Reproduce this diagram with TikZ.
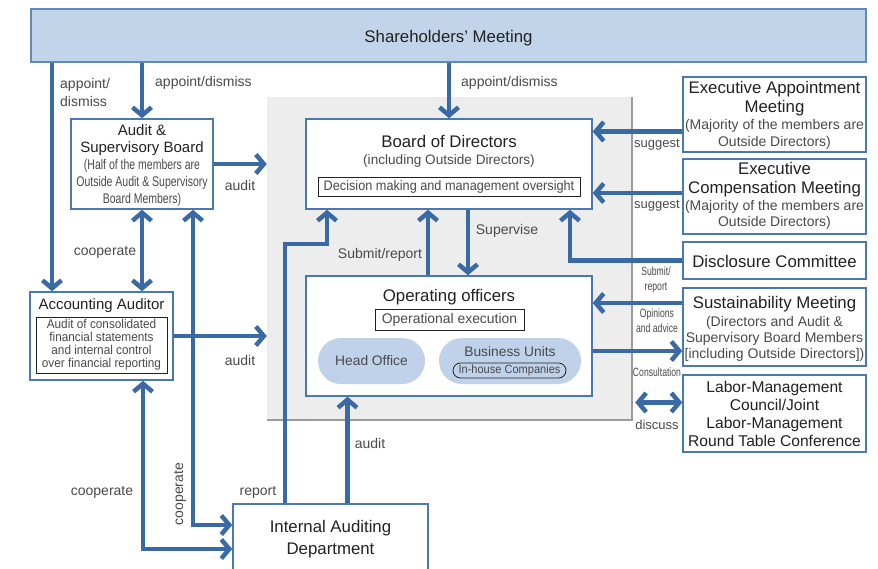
\documentclass[tikz,border=0pt]{standalone}
\usepackage{fontspec}
\setmainfont{Liberation Sans}
\newfontfamily\condfont[FakeStretch=0.75]{Liberation Sans}
\newfontfamily\narrowfont[FakeStretch=0.72]{Liberation Sans}
\newfontfamily\semifont[FakeStretch=0.92]{Liberation Sans}
\usepackage{tikz}
\usetikzlibrary{arrows.meta, calc}
\definecolor{linkblue}{HTML}{3A6AA5}
\definecolor{edgeblue}{HTML}{4A78AF}
\definecolor{shareedge}{HTML}{6088BB}
\definecolor{sharefill}{HTML}{C2D4E9}
\definecolor{pillfill}{HTML}{BFD2E9}
\definecolor{panelgray}{HTML}{EDEDED}
\definecolor{panelline}{HTML}{9C9C9C}
\definecolor{textmain}{HTML}{222222}
\definecolor{textsoft}{HTML}{4A4A4A}
\tikzstyle{box} = [rectangle, draw=edgeblue, line width=1.5pt, fill=white, inner sep=0]
\tikzstyle{inbox} = [rectangle, draw=textmain, line width=0.9pt, inner sep=0, text=textsoft]
\tikzstyle{pill} = [rectangle, rounded corners=23pt, fill=pillfill, inner sep=0, text=textsoft, font=\fontsize{13.8}{16}\selectfont]
\tikzstyle{arrow} = [line width=4.5pt, draw=linkblue, ->]
\tikzstyle{twoway} = [arrow, <->]
\tikzstyle{headtxt} = [text=textmain, inner sep=0, align=center, font=\fontsize{16.8}{19}\selectfont]
\tikzstyle{midtxt} = [text=textmain, inner sep=0, align=center, font=\fontsize{15}{17}\selectfont]
\tikzstyle{subtxt} = [text=textsoft, inner sep=0, align=center, font=\fontsize{14}{16.5}\selectfont]
\tikzstyle{condtxt} = [text=textsoft, inner sep=0, align=center, font=\condfont\fontsize{14}{17}\selectfont]
\tikzstyle{lbl} = [text=textsoft, inner sep=0, font=\fontsize{14}{18}\selectfont]
\tikzstyle{tinylbl} = [text=textsoft, inner sep=0, align=center, font=\narrowfont\fontsize{12}{15}\selectfont]

\begin{document}
\begin{tikzpicture}[x=1pt, y=-1pt, >={Straight Barb[length=8pt,width=19pt]}]
    \clip (0,0) rectangle (878,568);
    \fill[white] (0,0) rectangle (878,568);

    % shaded panel round the board and the officers
    \node[fill=panelgray, minimum width=365, minimum height=323, inner sep=0] (panel) at (449.5,258.5) {};
    \draw[panelline, line width=1.5pt] (panel.north east) -- (panel.south east) -- (panel.south west);

    \node[box, draw=shareedge, fill=sharefill, line width=1.2pt, minimum width=835, minimum height=53] (sm) at (448.5,35.5) {};
    \node[headtxt] (smtitle) at (448.5,38) {Shareholders' Meeting};

    % board of directors
    \node[box, minimum width=286, minimum height=90] (bod) at (449,164) {};
    \node[headtxt] (bodtitle) at (449,141) {Board of Directors};
    \node[subtxt, font=\fontsize{13.6}{16}\selectfont] (bodsub) at (449,160.5) {(including Outside Directors)};
    \node[inbox, minimum width=262, minimum height=19, font=\semifont\fontsize{13.8}{16}\selectfont] (bodtask) at (449,186.5) {Decision making and management oversight};

    % operating officers
    \node[box, minimum width=286, minimum height=120] (oo) at (449,336) {};
    \node[headtxt] (ootitle) at (449,297) {Operating officers};
    \node[inbox, minimum width=149, minimum height=21, font=\fontsize{13.9}{16}\selectfont] (ootask) at (449.5,319.5) {Operational execution};
    \node[pill, minimum width=107, minimum height=46] (ho) at (371.5,361) {Head Office};
    \node[pill, minimum width=142, minimum height=46] (bu) at (510,361) {};
    \node[subtxt, font=\fontsize{13.8}{16}\selectfont] (butitle) at (510,351.5) {Business Units};
    \node[draw=textmain, line width=0.8pt, rounded corners=7.5pt, minimum width=113, minimum height=15, inner sep=0, text=textsoft, font=\semifont\fontsize{12}{14}\selectfont] (buhouse) at (509.5,370.5) {In-house Companies};

    % audit & supervisory board
    \node[box, minimum width=142, minimum height=90] (asb) at (142,164) {};
    \node[midtxt] (asbtitle) at (142,140) {Audit \&\\Supervisory Board};
    \node[condtxt] (asbsub) at (142,182.5) {(Half of the members are\\Outside Audit \& Supervisory\\Board Members)};

    % accounting auditor
    \node[box, minimum width=143, minimum height=88] (aa) at (101.5,336) {};
    \node[midtxt] (aatitle) at (101.5,305.5) {Accounting Auditor};
    \node[inbox, minimum width=131, minimum height=56, align=center, font=\semifont\fontsize{12.8}{13}\selectfont] (aatask) at (101.5,345) {Audit of consolidated\\financial statements\\and internal control\\over financial reporting};

    % internal auditing department
    \node[box, minimum width=195, minimum height=68] (iad) at (330.5,538) {};
    \node[headtxt, font=\fontsize{16.8}{22}\selectfont] (iadtitle) at (330.5,539) {Internal Auditing\\Department};

    % committees on the right
    \node[box, minimum width=183, minimum height=75] (eam) at (774.5,114.5) {};
    \node[headtxt] (eamtitle) at (774.5,99) {Executive Appointment\\Meeting};
    \node[subtxt] (eamsub) at (774.5,134.5) {(Majority of the members are\\Outside Directors)};

    \node[box, minimum width=183, minimum height=75] (ecm) at (774.5,196.5) {};
    \node[headtxt] (ecmtitle) at (774.5,180) {Executive\\Compensation Meeting};
    \node[subtxt] (ecmsub) at (774.5,215) {(Majority of the members are\\Outside Directors)};

    \node[box, minimum width=183, minimum height=37] (dc) at (774.5,260.5) {};
    \node[headtxt] (dctitle) at (774.5,261.5) {Disclosure Committee};

    \node[box, minimum width=183, minimum height=78] (sus) at (774.5,327) {};
    \node[headtxt] (sustitle) at (774.5,304) {Sustainability Meeting};
    \node[subtxt, font=\fontsize{14}{16}\selectfont] (sussub) at (774.5,338.5) {(Directors and Audit \&\\Supervisory Board Members\\{[including} Outside Directors])};

    \node[box, minimum width=183, minimum height=77] (lmc) at (774.5,413.5) {};
    \node[headtxt, font=\fontsize{15.6}{18}\selectfont] (lmctitle) at (774.5,413.5) {Labor-Management\\Council/Joint\\Labor-Management\\Round Table Conference};

    % connector ends
    \coordinate (aatop) at ([xshift=-49.5pt]aa.north);
    \coordinate (aalow) at ([xshift=41.5pt]aa.south);
    \coordinate (asblow) at ([xshift=51pt]asb.south);
    \coordinate (iadup) at ([yshift=13pt]iad.west);
    \coordinate (iaddown) at ([yshift=-11pt]iad.west);
    \coordinate (iadrep) at ([xshift=-45.5pt]iad.north);
    \coordinate (bodrep) at ([xshift=-122pt]bod.south);
    \coordinate (iadaud) at ([xshift=17pt]iad.north);
    \coordinate (oosub) at ([xshift=-21pt]oo.north);
    \coordinate (bodsup) at ([xshift=19pt]bod.south);
    \coordinate (boddc) at ([xshift=121pt]bod.south);
    \coordinate (eamout) at ([yshift=-17pt]eam.west);
    \coordinate (ecmout) at ([yshift=3.5pt]ecm.west);
    \coordinate (susin) at ([yshift=24pt]sus.west);
    \coordinate (susout) at ([yshift=-24pt]sus.west);
    \coordinate (lmcin) at ([yshift=11pt]lmc.west);

    % connectors
    \draw[arrow] (sm.south -| aatop) -- (aatop);
    \draw[arrow] (sm.south -| asb.north) -- (asb.north);
    \draw[arrow] (sm.south -| bod.north) -- (bod.north);
    \draw[arrow] (asb.east) -- (asb.east -| panel.west);
    \draw[arrow] (aa.east) -- (aa.east -| panel.west);
    \draw[twoway] (asb.south) -- (asb.south |- aa.north);
    \draw[twoway] (asblow) |- (iadup);
    \draw[twoway] (aalow) |- (iaddown);
    \draw[arrow] (iadrep) |- ([yshift=-34pt]bodrep) -- (bodrep);
    \draw[arrow] (iadaud) -- (iadaud |- oo.south);
    \draw[arrow] (oosub) -- (oosub |- bod.south);
    \draw[arrow] (bodsup) -- (bodsup |- oo.north);
    \draw[arrow] (eamout) -- (eamout -| bod.east);
    \draw[arrow] (ecmout) -- (ecmout -| bod.east);
    \draw[arrow] (dc.west) -| (boddc);
    \draw[arrow] (susin) -- (susin -| oo.east);
    \draw[arrow] (susout -| oo.east) -- (susout);
    \draw[twoway] ($(lmcin -| panel.east)+(3,0)$) -- (lmcin);

    % connector labels
    \node[lbl, align=left, anchor=west] (l1) at (60,92) {appoint/\\dismiss};
    \node[lbl, anchor=west] (l2) at (155,83) {appoint/dismiss};
    \node[lbl, anchor=west] (l3) at (461,83) {appoint/dismiss};
    \node[lbl] (l4) at (240,185) {audit};
    \node[lbl] (l5) at (240,360) {audit};
    \node[lbl] (l6) at (105,252) {cooperate};
    \node[lbl, rotate=90] (l7) at (180,494) {cooperate};
    \node[lbl] (l8) at (102,492) {cooperate};
    \node[lbl] (l9) at (258,492) {report};
    \node[lbl] (l10) at (370,443) {audit};
    \node[lbl] (l11) at (380,255) {Submit/report};
    \node[lbl] (l12) at (507,231) {Supervise};
    \node[lbl, font=\fontsize{13}{15}\selectfont] (l13) at (657,145) {suggest};
    \node[lbl, font=\fontsize{13}{15}\selectfont] (l14) at (657,206) {suggest};
    \node[tinylbl] (l15) at (656,280) {Submit/\\report};
    \node[tinylbl] (l16) at (657,321) {Opinions\\and advice};
    \node[tinylbl] (l17) at (657,372.5) {Consultation};
    \node[lbl, font=\fontsize{13}{15}\selectfont] (l18) at (657,425) {discuss};
\end{tikzpicture}
\end{document}
